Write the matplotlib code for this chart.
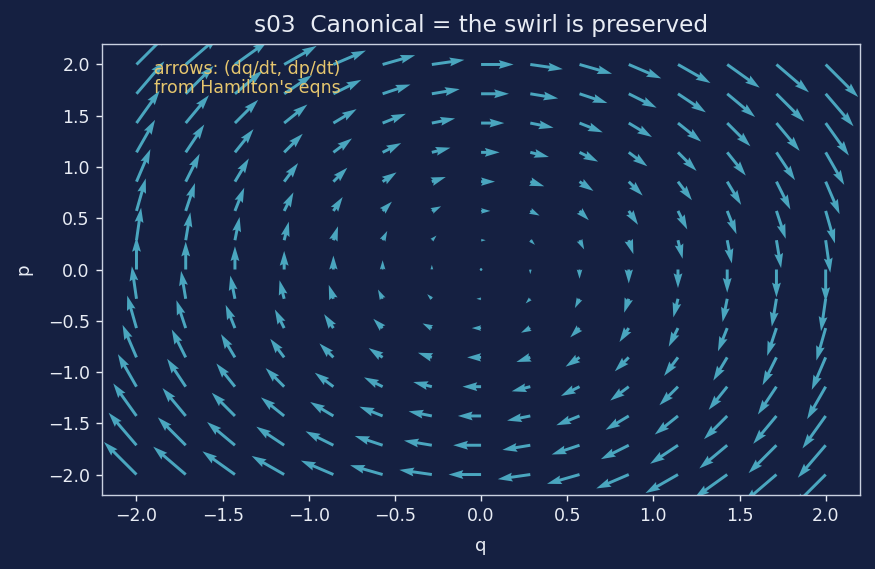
import numpy as np
import matplotlib
matplotlib.use("Agg")
import matplotlib.pyplot as plt

# phase-space grid (q, p) for the harmonic oscillator H = (q^2 + p^2) / 2
q_vals = np.linspace(-2.0, 2.0, 15)
p_vals = np.linspace(-2.0, 2.0, 15)
x_ticks = [-2.0, -1.5, -1.0, -0.5, 0.0, 0.5, 1.0, 1.5, 2.0]
y_ticks = [-2.0, -1.5, -1.0, -0.5, 0.0, 0.5, 1.0, 1.5, 2.0]

bg = "#152041"
fg = "#e8ecf4"
arrow_col = "#4aa6bf"

Q, P = np.meshgrid(q_vals, p_vals)
dq = P      # dq/dt =  dH/dp
dp = -Q     # dp/dt = -dH/dq

fig = plt.figure(figsize=(7.0, 4.552), dpi=125, facecolor=bg)
ax = fig.add_axes([0.1166, 0.130, 0.8664, 0.7927], facecolor=bg)

ax.quiver(Q, P, dq, dp, color=arrow_col, pivot="tail", angles="uv",
          scale_units="dots", scale=0.0615, width=0.0039)

ax.set_xlim(-2.2, 2.2)
ax.set_ylim(-2.2, 2.2)
ax.set_xticks(x_ticks)
ax.set_yticks(y_ticks)
ax.tick_params(colors=fg, labelsize=10)
for s in ax.spines.values():
    s.set_color("#c9d1e0")
ax.set_xlabel("q", color=fg, fontsize=10.5, labelpad=7)
ax.set_ylabel("p", color=fg, fontsize=10.5, labelpad=9)
ax.set_title("s03  Canonical = the swirl is preserved", color=fg,
             fontsize=13.4, pad=7)

ax.text(0.069, 0.965, "arrows: (dq/dt, dp/dt)\nfrom Hamilton's eqns",
        transform=ax.transAxes, color="#e6c66e", fontsize=10,
        va="top", ha="left", linespacing=1.1)

fig.savefig("out.png", dpi=125, facecolor=bg)
